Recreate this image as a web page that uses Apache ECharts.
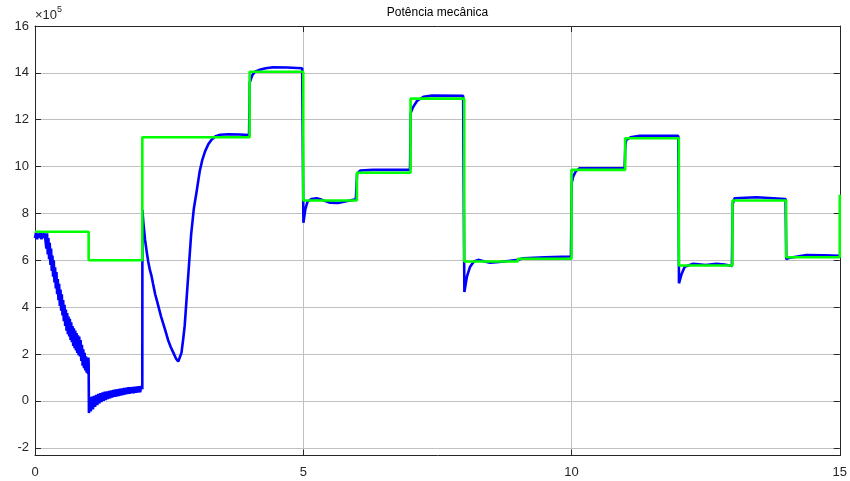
<!DOCTYPE html>
<html><head><meta charset="utf-8">
<script src="https://cdn.jsdelivr.net/npm/echarts@6/dist/echarts.min.js"></script>
<style>html,body{margin:0;padding:0;background:#fff}#c{width:850px;height:481px}</style>
</head><body><div id="c"></div>
<script>
const titleText = 'Potência mecânica';
const xTicks = [0, 5, 10, 15];
const yTicks = [-2, 0, 2, 4, 6, 8, 10, 12, 14, 16];

// Blue: measured mechanical power (x10^5)
const blueT = [0,0.02,0.04,0.06,0.08,0.1,0.12,0.14,0.16,0.18,
  0.2,0.2125,0.225,0.2375,0.25,0.2625,0.275,0.2875,0.3,0.3125,0.325,0.3375,0.35,0.3625,0.375,0.3875,0.4,0.4125,0.425,0.4375,0.45,0.4625,0.475,0.4875,0.5,0.5125,0.525,0.5375,0.55,0.5625,0.575,0.5875,0.6,0.6125,0.625,0.6375,0.65,0.6625,0.675,0.6875,0.7,0.7125,0.725,0.7375,0.75,0.7625,0.775,0.7875,0.8,0.8125,0.825,0.8375,0.85,0.8625,0.875,0.8875,0.9,0.9125,0.925,0.9375,0.95,0.9625,0.975,0.9875,0.995,1.0,
  1.005,1.02,1.04,1.06,1.08,1.1,1.12,1.14,1.16,1.18,1.2,1.22,1.24,1.26,1.28,1.3,1.32,1.34,1.36,1.38,1.4,1.42,1.44,1.46,1.48,1.5,1.52,1.54,1.56,1.58,1.6,1.62,1.64,1.66,1.68,1.7,1.72,1.74,1.76,1.78,1.8,1.82,1.84,1.86,1.88,1.9,1.92,1.94,1.96,1.98,2.0,
  2.002,2.02,2.05,2.08,2.11,2.14,2.17,2.2,2.24,2.27,2.31,2.35,2.39,2.43,2.48,2.53,2.58,2.63,2.67,2.7,2.73,2.76,2.79,2.83,2.87,2.91,2.96,3.01,3.07,3.12,3.17,3.23,3.29,3.37,3.45,3.6,3.8,3.99,
  4.003,4.05,4.1,4.19,4.3,4.44,4.7,4.98,
  5.003,5.04,5.08,5.15,5.25,5.35,5.5,5.65,5.8,5.98,
  6.003,6.06,6.3,6.99,
  7.003,7.05,7.12,7.24,7.4,7.98,
  8.003,8.05,8.11,8.18,8.26,8.38,8.48,8.65,8.85,9.0,9.1,9.5,9.99,
  10.003,10.03,10.08,10.15,10.99,
  11.003,11.02,11.1,11.27,11.99,
  12.003,12.05,12.11,12.27,12.5,12.7,12.85,12.99,
  13.003,13.04,13.45,13.99,
  14.003,14.05,14.38,14.7,15.0];
const blueV = [6.95,7.2,6.9,7.15,6.95,7.2,6.9,7.15,6.95,7.15,
  7.2,6.5,7.15,6.25,6.95,6.05,6.75,5.8,6.5,5.55,6.2,5.3,6.0,5.05,5.7,4.8,5.5,4.55,5.2,4.3,5.0,4.05,4.75,3.85,4.55,3.65,4.3,3.4,4.1,3.2,3.9,3.0,3.75,2.85,3.6,2.75,3.5,2.6,3.35,2.5,3.2,2.35,3.1,2.25,3.0,2.15,2.9,2.05,2.8,1.95,2.75,1.9,2.6,1.7,2.4,1.5,2.2,1.4,2.05,1.3,1.9,1.2,1.85,1.15,1.85,1.6,
  -0.52,0.15,-0.45,0.18,-0.36,0.22,-0.26,0.26,-0.18,0.3,-0.11,0.33,-0.05,0.36,0.0,0.39,0.04,0.41,0.08,0.43,0.11,0.45,0.14,0.47,0.17,0.49,0.19,0.5,0.21,0.52,0.23,0.53,0.25,0.55,0.27,0.56,0.29,0.58,0.3,0.59,0.32,0.6,0.33,0.61,0.35,0.62,0.36,0.63,0.37,0.64,0.5,
  8.15,7.6,6.9,6.4,5.95,5.6,5.35,5.0,4.55,4.3,3.95,3.6,3.3,3.0,2.6,2.3,2.05,1.8,1.68,1.72,2.05,2.6,3.2,4.5,5.8,7.1,8.2,8.9,9.8,10.3,10.65,10.95,11.15,11.3,11.36,11.38,11.37,11.35,
  13.6,13.9,14.05,14.13,14.2,14.24,14.23,14.2,
  7.6,8.2,8.5,8.62,8.65,8.58,8.46,8.45,8.52,8.6,
  9.7,9.83,9.86,9.86,
  12.3,12.55,12.8,12.98,13.03,13.02,
  4.65,5.3,5.73,5.95,6.02,5.95,5.9,5.93,5.98,6.02,6.09,6.13,6.16,
  9.3,9.57,9.8,9.93,9.93,
  10.9,11.14,11.25,11.31,11.31,
  5.02,5.4,5.73,5.85,5.8,5.85,5.82,5.76,
  8.4,8.65,8.69,8.62,
  6.05,6.1,6.23,6.21,6.19];

// Green: reference step (x10^5)
const greenT = [0,1,1,2,2,4,4,5,5,6,6,7,7,8,8,9,9,10,10,11,11,12,12,13,13,14,14,15,15];
const greenV = [7.22,7.22,6.0,6.0,11.25,11.25,14.05,14.05,8.55,8.55,9.74,9.74,12.9,12.9,5.95,5.95,6.07,6.07,9.86,9.86,11.21,11.21,5.78,5.78,8.55,8.55,6.13,6.13,8.8];

const zip = (a, b) => a.map((t, i) => [t, b[i]]);
const axisCol = '#262626';
const gridCol = '#c0c0c0';
const font = 'Liberation Sans, Arial, Helvetica, sans-serif';

const chart = echarts.init(document.getElementById('c'), null, {renderer: 'canvas'});
const xAx = (pos, labels) => ({
  type: 'value', min: 0, max: 15, interval: 5, position: pos,
  axisLine: {show: true, onZero: false, lineStyle: {color: axisCol, width: 1}},
  axisTick: {show: true, inside: true, length: 6, lineStyle: {color: axisCol}},
  axisLabel: {show: labels, color: axisCol, fontFamily: font, fontSize: 13, margin: 10},
  splitLine: {show: labels, lineStyle: {color: gridCol, width: 1}}
});
const yAx = (pos, labels) => ({
  type: 'value', min: -2.33, max: 16, position: pos,
  axisLine: {show: true, onZero: false, lineStyle: {color: axisCol, width: 1}},
  axisTick: {show: true, inside: true, length: 6, customValues: yTicks, lineStyle: {color: axisCol}},
  axisLabel: {show: labels, customValues: yTicks, color: axisCol, fontFamily: font, fontSize: 13, margin: 6},
  splitLine: {show: labels, lineStyle: {color: gridCol, width: 1}}
});
chart.setOption({
  animation: false,
  backgroundColor: '#fff',
  grid: {left: 35, right: 10, top: 26, bottom: 25.5, containLabel: false},
  xAxis: [xAx('bottom', true), xAx('top', false)],
  yAxis: [yAx('left', true), yAx('right', false)],
  graphic: [{
    type: 'text', x: 437.5, y: 13,
    style: {text: titleText, fontFamily: font, fontSize: 12, fill: '#000', align: 'center', verticalAlign: 'middle'}
  }, {
    type: 'text', left: 35, top: 5,
    style: {text: '{a|×10}{b|5}', rich: {
      a: {fontFamily: font, fontSize: 13, fill: axisCol, verticalAlign: 'bottom', lineHeight: 17},
      b: {fontFamily: font, fontSize: 9, fill: axisCol, verticalAlign: 'top', lineHeight: 10, padding: [0,0,7,0]}
    }}
  }],
  series: [{
    type: 'line', data: zip(blueT, blueV), showSymbol: false, symbol: 'none',
    lineStyle: {color: '#0000ff', width: 2.6}, z: 2
  }, {
    type: 'line', data: zip(greenT, greenV), showSymbol: false, symbol: 'none',
    lineStyle: {color: '#00ff00', width: 2.6}, z: 3
  }]
});
</script></body></html>
